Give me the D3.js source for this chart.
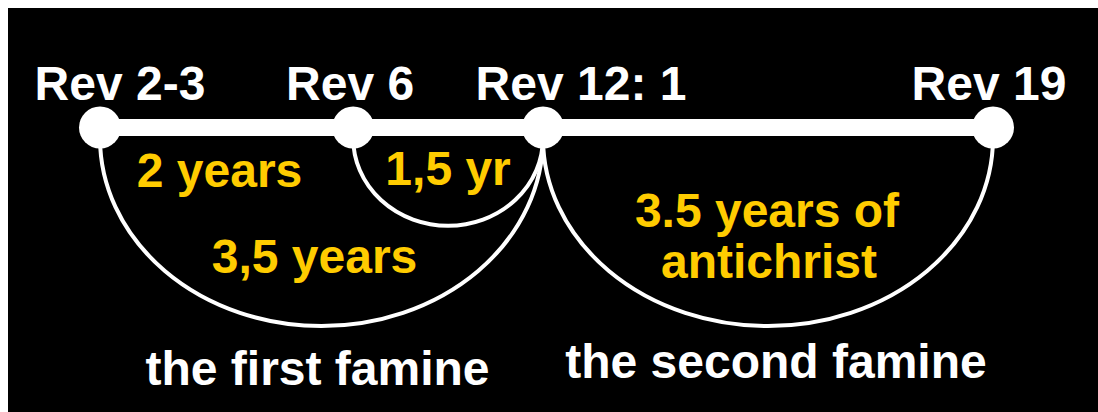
<!DOCTYPE html>
<html>
<head>
<meta charset="utf-8">
<script src="https://cdn.jsdelivr.net/npm/d3@7"></script>
<style>
  html, body { margin: 0; padding: 0; background: #ffffff; }
  svg { display: block; }
  text { font-family: "Liberation Sans", Arial, sans-serif; font-weight: bold; }
</style>
</head>
<body>
<svg id="chart" width="1098" height="412"></svg>
<script>
// ---- data ----
const nodeNames = ["Rev 2-3", "Rev 6", "Rev 12: 1", "Rev 19"];
const nodeYears = [0, 2, 3.5, 7];
const spanFrom = [0, 2, 3.5];
const spanTo = [3.5, 3.5, 7];
const spanLabels = [["3,5 years"], ["1,5 yr"], ["3.5 years of", "antichrist"]];
const gapLabel = "2 years"; // between Rev 2-3 and Rev 6
const famineLabels = ["the first famine", "the second famine"];
const famineSpans = [0, 2]; // index into spans

// ---- layout ----
const W = 1098, H = 412;
const lineY = 127.5;
const arcY = 138;
const fontSize = 48;
const yellow = "#ffcc00";
const nodeLabelDx = [20, -3, 38, -4];
const svg = d3.select("#chart");

// black panel with white frame at top/left
svg.append("rect").attr("x", 8).attr("y", 8).attr("width", W - 8).attr("height", H - 8).attr("fill", "#000");

const x = d3.scaleLinear().domain([0, 3.5, 7]).range([100, 543, 993]);
const depth = d3.scalePow().exponent(0.9).domain([0, 3.5]).range([0, 188]);

const spans = spanFrom.map((f, i) => ({ from: f, to: spanTo[i], labels: spanLabels[i] }));

// arcs
svg.selectAll("path.arc").data(spans).join("path")
  .attr("class", "arc")
  .attr("fill", "none")
  .attr("stroke", "#fff")
  .attr("stroke-width", 4)
  .attr("d", d => {
    const x1 = x(d.from), x2 = x(d.to);
    const rx = (x2 - x1) / 2, ry = depth(d.to - d.from);
    return `M${x1},${arcY} A${rx},${ry} 0 0 0 ${x2},${arcY}`;
  });

// timeline
svg.append("line")
  .attr("x1", x(nodeYears[0])).attr("x2", x(nodeYears[nodeYears.length - 1]))
  .attr("y1", lineY).attr("y2", lineY)
  .attr("stroke", "#fff").attr("stroke-width", 17);

// nodes
svg.selectAll("circle.node").data(nodeYears).join("circle")
  .attr("class", "node")
  .attr("cx", d => x(d)).attr("cy", lineY).attr("r", 21)
  .attr("fill", "#fff");

// node labels
svg.selectAll("text.node").data(nodeNames).join("text")
  .attr("class", "node")
  .attr("x", (d, i) => x(nodeYears[i]) + nodeLabelDx[i])
  .attr("y", 100)
  .attr("text-anchor", "middle")
  .attr("font-size", fontSize)
  .attr("fill", "#fff")
  .text(d => d);

// gap label
svg.append("text")
  .attr("x", (x(nodeYears[0]) + x(nodeYears[1])) / 2 - 7)
  .attr("y", 187)
  .attr("text-anchor", "middle")
  .attr("font-size", fontSize)
  .attr("fill", yellow)
  .text(gapLabel);

// span labels
const spanLabelY = [[273], [185], [227, 278]];
const spanLabelDx = [-7, 0, -1];
spans.forEach((s, i) => {
  s.labels.forEach((lab, j) => {
    svg.append("text")
      .attr("x", (x(s.from) + x(s.to)) / 2 + spanLabelDx[i] + (j === 1 ? 2 : 0))
      .attr("y", spanLabelY[i][j])
      .attr("text-anchor", "middle")
      .attr("font-size", fontSize)
      .attr("fill", yellow)
      .text(lab);
  });
});

// famine labels
const famineY = [385, 378];
const famineDx = [-4, 8];
famineLabels.forEach((lab, i) => {
  const s = spans[famineSpans[i]];
  svg.append("text")
    .attr("x", (x(s.from) + x(s.to)) / 2 + famineDx[i])
    .attr("y", famineY[i])
    .attr("text-anchor", "middle")
    .attr("font-size", fontSize)
    .attr("fill", "#fff")
    .text(lab);
});
</script>
</body>
</html>
